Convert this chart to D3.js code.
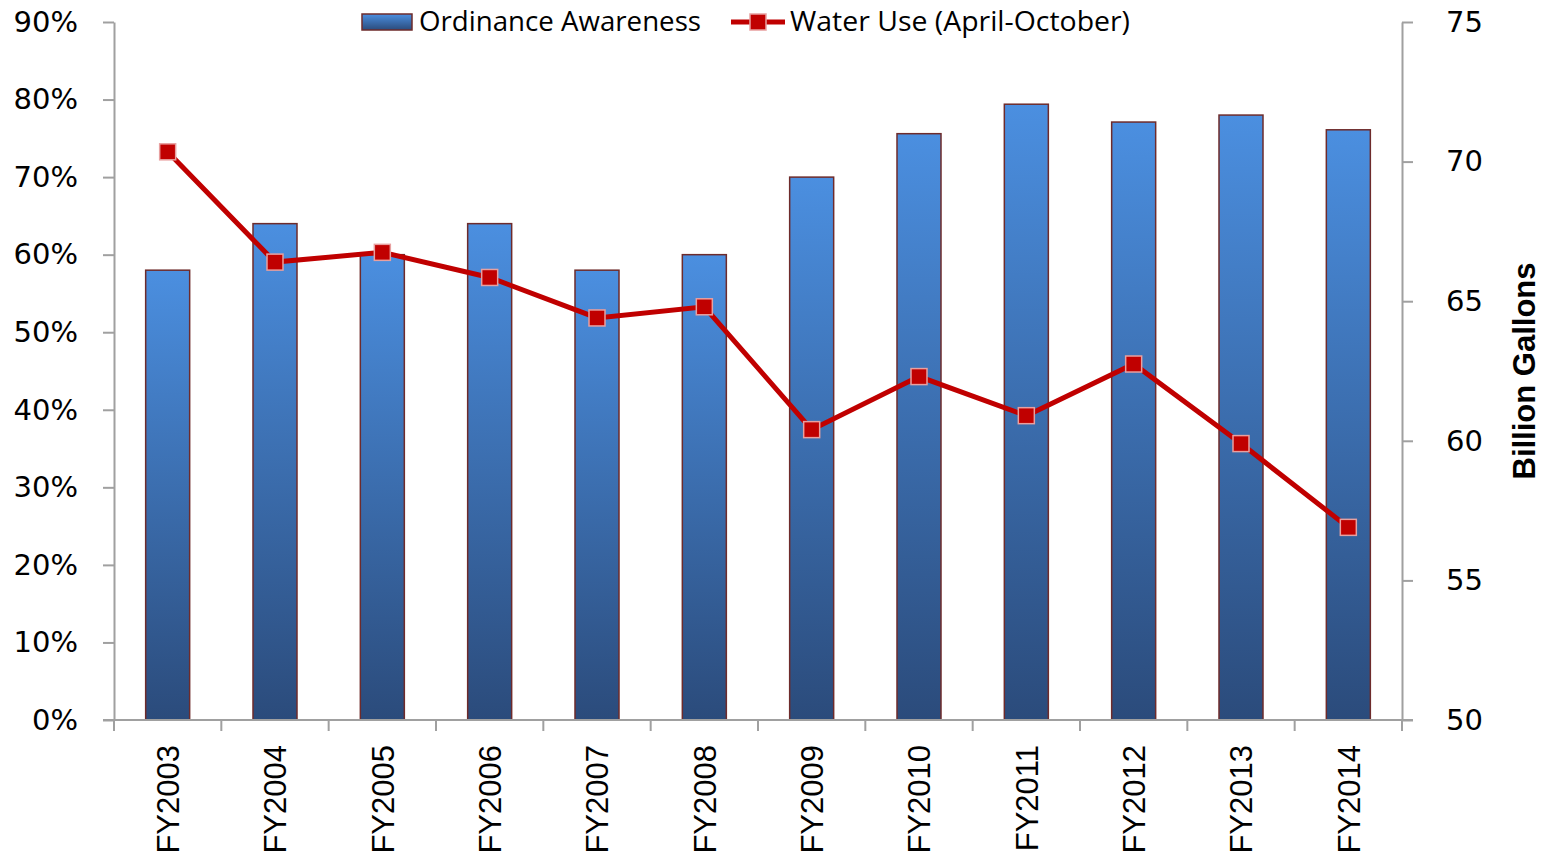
<!DOCTYPE html>
<html>
<head>
<meta charset="utf-8">
<script src="https://cdn.jsdelivr.net/npm/d3@7"></script>
<style>
  body { margin: 0; background: #fff; }
  svg { display: block; }
</style>
</head>
<body>
<div id="chart"></div>
<script>
// categories and series
const years = ["FY2003", "FY2004", "FY2005", "FY2006", "FY2007", "FY2008",
  "FY2009", "FY2010", "FY2011", "FY2012", "FY2013", "FY2014"];
const awareness = [0.58, 0.64, 0.60, 0.64, 0.58, 0.60, 0.70, 0.756, 0.794, 0.771, 0.780, 0.761];
const waterUse = [70.35, 66.4, 66.75, 65.85, 64.4, 64.8, 60.4, 62.3, 60.9, 62.75, 59.9, 56.9];

// tick values
const leftTicks = [0, 0.1, 0.2, 0.3, 0.4, 0.5, 0.6, 0.7, 0.8, 0.9];
const rightTicks = [50, 55, 60, 65, 70, 75];

const w = 1552;
const h = 856;
const plotLeft = 114, plotRight = 1402, plotTop = 22, plotBottom = 720;

const svg = d3.select("#chart")
  .append("svg")
  .attr("width", w)
  .attr("height", h);

const defs = svg.append("defs");
const grad = defs.append("linearGradient")
  .attr("id", "barGrad")
  .attr("x1", 0).attr("y1", 0)
  .attr("x2", 0).attr("y2", 1);
grad.append("stop").attr("offset", "0%").attr("stop-color", "#4b8fe0");
grad.append("stop").attr("offset", "100%").attr("stop-color", "#2b4b7b");

// scales
const xScale = d3.scaleBand()
  .domain(years)
  .range([plotLeft, plotRight])
  .padding(0);

const yScale = d3.scaleLinear()
  .domain([0, 0.9])
  .range([plotBottom, plotTop]);

const y2Scale = d3.scaleLinear()
  .domain([50, 75])
  .range([plotBottom, plotTop]);

const barW = xScale.bandwidth() * 0.41;
const cx = d => xScale(d) + xScale.bandwidth() / 2;

// bars
svg.selectAll("rect.bar")
  .data(years)
  .enter()
  .append("rect")
    .attr("class", "bar")
    .attr("x", d => cx(d) - barW / 2)
    .attr("y", (d, i) => yScale(awareness[i]))
    .attr("width", barW)
    .attr("height", (d, i) => yScale(0) - yScale(awareness[i]))
    .attr("fill", "url(#barGrad)")
    .attr("stroke", "#6e2b2b")
    .attr("stroke-width", 1.5);

// axes
const axisColor = "#a0a0a0";

const yAxis = d3.axisLeft(yScale)
  .tickValues(leftTicks)
  .tickFormat(d3.format(".0%"))
  .tickSize(11)
  .tickSizeOuter(0)
  .tickPadding(25);

const gy = svg.append("g")
  .attr("transform", `translate(${plotLeft}, 0)`)
  .call(yAxis);

const y2Axis = d3.axisRight(y2Scale)
  .tickValues(rightTicks)
  .tickSize(11)
  .tickSizeOuter(0)
  .tickPadding(33);

const gy2 = svg.append("g")
  .attr("transform", `translate(${plotRight}, 0)`)
  .call(y2Axis);

[gy, gy2].forEach(g => {
  g.select(".domain").attr("stroke", axisColor).attr("stroke-width", 2);
  g.selectAll(".tick line").attr("stroke", axisColor).attr("stroke-width", 2);
  g.selectAll(".tick text")
    .attr("fill", "#000")
    .style("font-family", "'DejaVu Sans', sans-serif")
    .style("font-size", "29px");
});

// bottom axis: labels at centres, ticks at band edges
const xAxis = d3.axisBottom(xScale).tickSize(0).tickSizeOuter(0);
const gx = svg.append("g")
  .attr("transform", `translate(0, ${plotBottom})`)
  .call(xAxis);
gx.select(".domain").remove();
gx.selectAll(".tick text")
  .attr("transform", "rotate(-90)")
  .attr("text-anchor", "end")
  .attr("x", -25)
  .attr("y", 0)
  .attr("dy", "0.36em")
  .attr("fill", "#000")
  .style("font-family", "'Liberation Sans', Arial, sans-serif")
  .style("font-size", "31px");

const edges = years.map(d => xScale(d)).concat([plotRight]);
svg.append("line")
  .attr("x1", plotLeft - 11).attr("x2", plotRight + 11)
  .attr("y1", plotBottom).attr("y2", plotBottom)
  .attr("stroke", axisColor).attr("stroke-width", 2);
svg.selectAll("line.xtick")
  .data(edges)
  .enter()
  .append("line")
    .attr("class", "xtick")
    .attr("x1", d => d).attr("x2", d => d)
    .attr("y1", plotBottom).attr("y2", plotBottom + 11)
    .attr("stroke", axisColor).attr("stroke-width", 2);

// water use line
const line = d3.line()
  .x((d, i) => cx(years[i]))
  .y(d => y2Scale(d));

svg.append("path")
  .datum(waterUse)
  .attr("d", line)
  .attr("fill", "none")
  .attr("stroke", "#c00000")
  .attr("stroke-width", 5);

const ms = 16;
svg.selectAll("rect.marker")
  .data(waterUse)
  .enter()
  .append("rect")
    .attr("class", "marker")
    .attr("x", (d, i) => cx(years[i]) - ms / 2)
    .attr("y", d => y2Scale(d) - ms / 2)
    .attr("width", ms)
    .attr("height", ms)
    .attr("fill", "#c00000")
    .attr("stroke", "#e8a0a0")
    .attr("stroke-width", 1.5);

// right axis title
svg.append("text")
  .attr("transform", "translate(1535, 371) rotate(-90)")
  .attr("text-anchor", "middle")
  .style("font-family", "'Liberation Sans', Arial, sans-serif")
  .style("font-weight", "bold")
  .style("font-size", "31px")
  .text("Billion Gallons");

// legend
const legend = svg.append("g");
legend.append("rect")
  .attr("x", 362).attr("y", 14)
  .attr("width", 50).attr("height", 16)
  .attr("fill", "url(#barGrad)")
  .attr("stroke", "#6e2b2b")
  .attr("stroke-width", 1.5);
legend.append("text")
  .attr("x", 419).attr("y", 31)
  .style("font-family", "'Open Sans', sans-serif")
  .style("font-size", "27px")
  .attr("textLength", 282)
  .attr("lengthAdjust", "spacingAndGlyphs")
  .text("Ordinance Awareness");
legend.append("line")
  .attr("x1", 731).attr("x2", 785)
  .attr("y1", 22).attr("y2", 22)
  .attr("stroke", "#c00000").attr("stroke-width", 5);
legend.append("rect")
  .attr("x", 758 - ms / 2).attr("y", 22 - ms / 2)
  .attr("width", ms).attr("height", ms)
  .attr("fill", "#c00000")
  .attr("stroke", "#e8a0a0")
  .attr("stroke-width", 1.5);
legend.append("text")
  .attr("x", 790).attr("y", 31)
  .style("font-family", "'Open Sans', sans-serif")
  .style("font-size", "27px")
  .attr("textLength", 340)
  .attr("lengthAdjust", "spacingAndGlyphs")
  .text("Water Use (April-October)");
</script>
</body>
</html>
